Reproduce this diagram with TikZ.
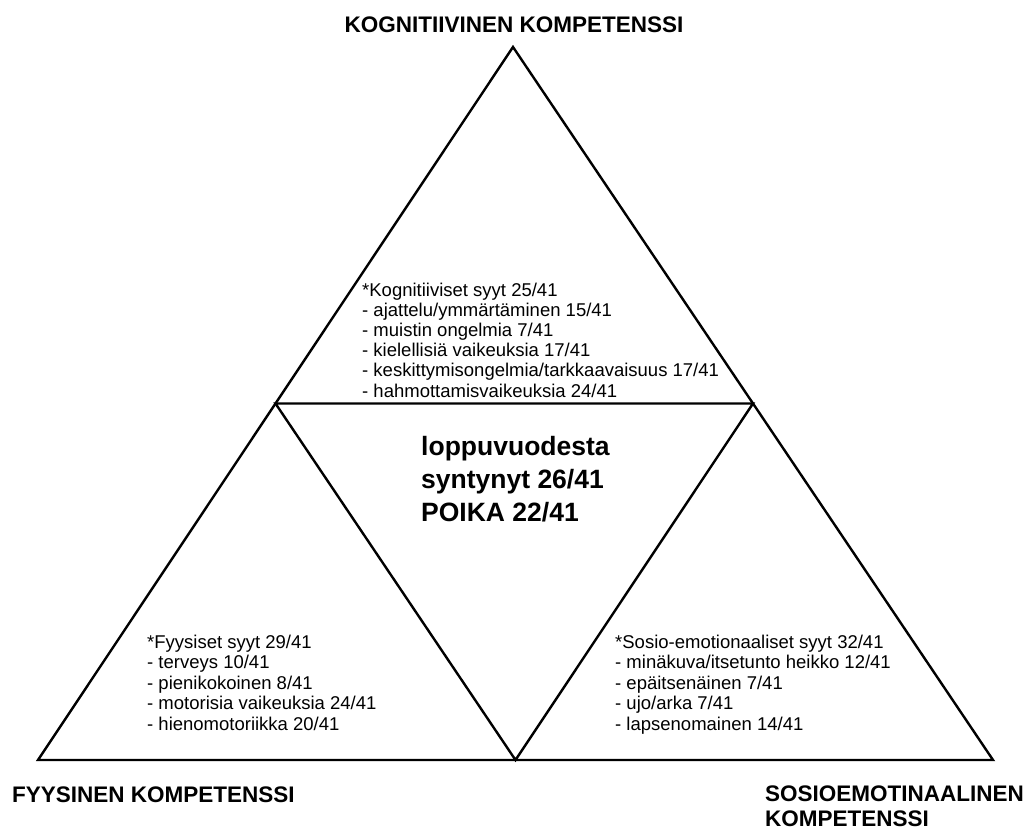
\documentclass[tikz,border=0pt]{standalone}
\usepackage{fontspec}
\setmainfont{Liberation Sans}
\usetikzlibrary{calc}
\begin{document}
\begin{tikzpicture}[x=1pt,y=-1pt,
  edge/.style={line width=2.4pt, line join=miter},
  item/.style={anchor=base west, inner sep=0pt, font=\fontsize{18.5}{20.5}\selectfont},
  heading/.style={inner sep=0pt, font=\fontsize{22.5}{29}\selectfont\bfseries},
  core/.style={anchor=base west, inner sep=0pt, font=\fontsize{26.5}{33}\selectfont\bfseries}]
\useasboundingbox[fill=white] (0,0) rectangle (1027,830);

% outer triangle and its midpoints
\coordinate (top) at (513,47);
\coordinate (bl) at (38,760);
\coordinate (br) at (993,760);
\coordinate (ml) at ($(top)!0.5!(bl)$);
\coordinate (mr) at ($(top)!0.5!(br)$);
\coordinate (mb) at ($(bl)!0.5!(br)$);

\draw[edge] (top) -- (bl) -- (br) -- cycle;
\draw[edge] (ml) -- (mr) -- (mb) -- cycle;

% corner headings
\node[heading, anchor=base] (hkog) at (514,32) {KOGNITIIVINEN KOMPETENSSI};
\node[heading, anchor=base west] (hfyys) at (12,802) {FYYSINEN KOMPETENSSI};
\node[heading, anchor=base west] (hsos1) at (765,801) {SOSIOEMOTINAALINEN};
\node[heading, anchor=base west] (hsos2) at (765,826) {KOMPETENSSI};

% cognitive causes (top triangle)
\foreach \t [count=\i from 0] in {%
  *Kognitiiviset syyt 25/41,
  - ajattelu/ymmärtäminen 15/41,
  - muistin ongelmia 7/41,
  - kielellisiä vaikeuksia 17/41,
  - keskittymisongelmia/tarkkaavaisuus 17/41,
  - hahmottamisvaikeuksia 24/41}
  \node[item] (kog-\i) at (362,{296+20.2*\i}) {\t};

% physical causes (lower left triangle)
\foreach \t [count=\i from 0] in {%
  *Fyysiset syyt 29/41,
  - terveys 10/41,
  - pienikokoinen 8/41,
  - motorisia vaikeuksia 24/41,
  - hienomotoriikka 20/41}
  \node[item] (fyys-\i) at (147,{648+20.6*\i}) {\t};

% socio-emotional causes (lower right triangle)
\foreach \t [count=\i from 0] in {%
  *Sosio-emotionaaliset syyt 32/41,
  - minäkuva/itsetunto heikko 12/41,
  - epäitsenäinen 7/41,
  - ujo/arka 7/41,
  - lapsenomainen 14/41}
  \node[item] (sos-\i) at (615,{648+20.6*\i}) {\t};

% centre triangle
\node[core] (c1) at (421,455) {loppuvuodesta};
\node[core] (c2) at (421,488) {syntynyt 26/41};
\node[core] (c3) at (421,521) {POIKA 22/41};
\end{tikzpicture}
\end{document}
